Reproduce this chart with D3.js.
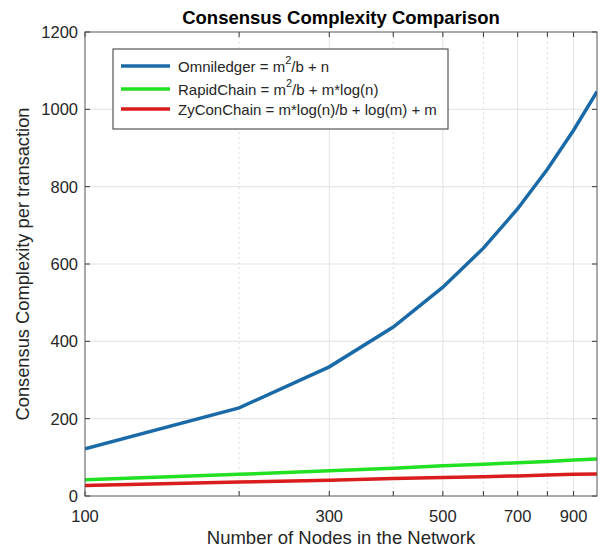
<!DOCTYPE html>
<html><head><meta charset="utf-8">
<script src="https://cdn.jsdelivr.net/npm/d3@7"></script>
<style>body{margin:0;background:#fff}svg{display:block;font-family:"Liberation Sans",Arial,sans-serif}</style>
</head><body><svg id="c" width="604" height="548"></svg>
<script>
const nodes = [100,200,300,400,500,600,700,800,900,1000];
const omniledger = [122,228,334,437,540,641,743,845,946,1046];
const rapidchain = [42,56,65,72,78,82,86,89,93,96];
const zyconchain = [27,36,41,45,48,50,52,54,56,57];
const xMajorTicks = [100,300,500,700,900];
const xMinorTicks = [200,400,600,800];
const yTicks = [0,200,400,600,800,1000,1200];

const W=604,H=548, L=85,R=597,T=32,B=496;
const svg=d3.select("#c");
const x=d3.scaleLog().domain([100,1000]).range([L,R]);
const y=d3.scaleLinear().domain([0,1200]).range([B,T]);

// grid
const g=svg.append("g");
g.selectAll(".gy").data(yTicks.slice(1,-1)).join("line")
 .attr("x1",L).attr("x2",R).attr("y1",d=>y(d)).attr("y2",d=>y(d))
 .attr("stroke","#e3e3e3").attr("stroke-width",1);
g.selectAll(".gxM").data(xMajorTicks.slice(1)).join("line")
 .attr("x1",d=>x(d)).attr("x2",d=>x(d)).attr("y1",T).attr("y2",B)
 .attr("stroke","#e3e3e3").attr("stroke-width",1);
g.selectAll(".gxm").data(xMinorTicks).join("line")
 .attr("x1",d=>x(d)).attr("x2",d=>x(d)).attr("y1",T).attr("y2",B)
 .attr("stroke","#dcdcdc").attr("stroke-width",1).attr("stroke-dasharray","2,3");

// lines
const series=[
 {name:"omni",vals:omniledger,color:"#1b6aa8"},
 {name:"rapid",vals:rapidchain,color:"#22e022"},
 {name:"zy",vals:zyconchain,color:"#d91c1c"}];
const line=d3.line().x((d,i)=>x(nodes[i])).y(d=>y(d));
svg.append("defs").append("clipPath").attr("id","clip").append("rect")
 .attr("x",L).attr("y",T).attr("width",R-L).attr("height",B-T);
series.slice().reverse().forEach(s=>{
 svg.append("path").datum(s.vals).attr("d",line).attr("fill","none")
  .attr("stroke",s.color).attr("stroke-width",3.5).attr("clip-path","url(#clip)");
});

// axes
const tickLen=5;
const axCol="#333";
const allX=xMajorTicks.concat(xMinorTicks);
const ax=svg.append("g");
ax.selectAll(".tb").data(allX).join("line")
 .attr("x1",d=>x(d)).attr("x2",d=>x(d)).attr("y1",B).attr("y2",B-tickLen).attr("stroke",axCol);
ax.selectAll(".tt").data(allX).join("line")
 .attr("x1",d=>x(d)).attr("x2",d=>x(d)).attr("y1",T).attr("y2",T+tickLen).attr("stroke",axCol);
ax.selectAll(".tl").data(yTicks).join("line")
 .attr("x1",L).attr("x2",L+tickLen).attr("y1",d=>y(d)).attr("y2",d=>y(d)).attr("stroke",axCol);
ax.selectAll(".tr").data(yTicks).join("line")
 .attr("x1",R).attr("x2",R-tickLen).attr("y1",d=>y(d)).attr("y2",d=>y(d)).attr("stroke",axCol);
svg.append("rect").attr("x",L).attr("y",T).attr("width",R-L).attr("height",B-T)
 .attr("fill","none").attr("stroke","#555").attr("stroke-width",1);

const txt="#262626";
svg.selectAll(".xl").data(xMajorTicks).join("text")
 .attr("x",d=>x(d)).attr("y",B+26).attr("text-anchor","middle")
 .attr("font-size",16.5).attr("fill",txt).text(d=>d);
svg.selectAll(".yl").data(yTicks).join("text")
 .attr("x",L-7).attr("y",d=>y(d)+6).attr("text-anchor","end")
 .attr("font-size",16.5).attr("fill",txt).text(d=>d);

svg.append("text").attr("x",(L+R)/2).attr("y",544).attr("text-anchor","middle")
 .attr("font-size",18.5).attr("fill",txt).text("Number of Nodes in the Network");
svg.append("text").attr("transform",`translate(29,${(T+B)/2}) rotate(-90)`)
 .attr("text-anchor","middle").attr("font-size",18.3).attr("fill",txt)
 .text("Consensus Complexity per transaction");
svg.append("text").attr("x",(L+R)/2).attr("y",24).attr("text-anchor","middle")
 .attr("font-size",18.5).attr("font-weight","bold").attr("fill","#000")
 .text("Consensus Complexity Comparison");

// legend
const lg=svg.append("g");
lg.append("rect").attr("x",113).attr("y",49).attr("width",335).attr("height",80)
 .attr("fill","#fff").attr("stroke","#333").attr("stroke-width",1);
const legRows=[
 {s:series[0],y:66,parts:[["Omniledger = m",0],["2",1],["/b + n",0]]},
 {s:series[1],y:89,parts:[["RapidChain = m",0],["2",1],["/b + m*log(n)",0]]},
 {s:series[2],y:109,parts:[["ZyConChain = m*log(n)/b + log(m) + m",0]]}];
legRows.forEach(r=>{
 lg.append("line").attr("x1",121).attr("x2",170).attr("y1",r.y).attr("y2",r.y)
  .attr("stroke",r.s.color).attr("stroke-width",3.5);
 const t=lg.append("text").attr("x",178).attr("y",r.y+5.5).attr("font-size",15).attr("fill",txt);
 let prev=0;
 r.parts.forEach(p=>{
  const sup=p[1];
  t.append("tspan").attr("dy",sup? -7.5 : (prev? 7.5:0)).attr("font-size",sup?11:15).text(p[0]);
  prev=sup;
 });
});
</script></body></html>
